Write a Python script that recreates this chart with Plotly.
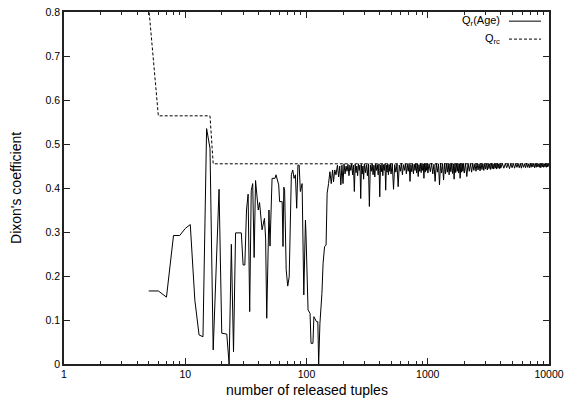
import plotly.graph_objects as go

# ---- data ----
# sparse part of Q_r(Age)
age_x_sparse = [5, 6, 7, 8, 9, 10, 11, 12, 13, 14, 15, 16, 17, 19, 20, 22, 23, 24, 25, 26,
                29, 30, 31, 32, 33, 34, 35, 36, 37, 38, 40, 41, 43, 45, 46, 47, 49, 50, 52, 55,
                56, 59, 60, 63, 64, 65, 66, 68, 70, 72, 75, 77, 79, 81, 83, 85, 87, 89, 92, 93,
                95, 98, 99, 103, 107, 109, 113, 115, 121, 124, 126, 129, 134, 137, 141, 145,
                148, 152, 156, 160, 164, 167, 171, 175]
age_q_sparse = [0.166, 0.166, 0.152, 0.292, 0.292, 0.308, 0.317, 0.145, 0.066, 0.062, 0.535,
                0.49, 0.032, 0.397, 0.07, 0.068, 0.0, 0.272, 0.028, 0.298,
                0.298, 0.225, 0.225, 0.35, 0.386, 0.119, 0.394, 0.41, 0.242, 0.417, 0.35, 0.367,
                0.305, 0.331, 0.286, 0.104, 0.35, 0.268, 0.422, 0.422,
                0.43, 0.407, 0.369, 0.369, 0.267, 0.402, 0.395, 0.214, 0.177, 0.198, 0.43, 0.441,
                0.422, 0.43, 0.354, 0.452, 0.452, 0.392, 0.41, 0.35,
                0.157, 0.327, 0.297, 0.123, 0.115, 0.047, 0.047, 0.1075, 0.096, 0.096, 0.0,
                0.092, 0.16, 0.229, 0.267, 0.27,
                0.388, 0.41, 0.437, 0.41, 0.441, 0.414, 0.441, 0.43]

# dense part of Q_r(Age): alternating upper edge / dips of the band, by decade slice
age_x_a = [180, 184, 188, 192, 196, 200, 204, 208, 212, 216, 220, 224, 228, 232, 236, 240,
           244, 248, 252, 256, 260, 264, 268, 272, 276, 280, 284, 288, 292, 296, 300]
age_q_a = [0.452, 0.425, 0.45, 0.407, 0.452, 0.41, 0.455, 0.432, 0.45, 0.438, 0.454, 0.428,
           0.452, 0.44, 0.455, 0.43, 0.452, 0.392, 0.454, 0.435, 0.45, 0.428, 0.455, 0.44,
           0.452, 0.376, 0.454, 0.432, 0.45, 0.42, 0.455]

age_x_b = [306, 312, 318, 324, 330, 336, 342, 348, 354, 360, 366, 372, 378, 384, 390, 396,
           402, 408, 414, 420, 426, 432, 438, 444, 450, 456, 462, 468, 474, 480, 486, 492, 498]
age_q_b = [0.435, 0.453, 0.428, 0.455, 0.358, 0.452, 0.438, 0.455, 0.43, 0.452, 0.425, 0.455,
           0.44, 0.453, 0.43, 0.455, 0.38, 0.452, 0.437, 0.455, 0.428, 0.453, 0.44, 0.455,
           0.395, 0.452, 0.436, 0.455, 0.43, 0.453, 0.438, 0.455, 0.432]

age_x_c = [510, 522, 534, 546, 558, 570, 582, 594, 606, 618, 630, 642, 654, 666, 678, 690,
           702, 714, 726, 738, 750, 762, 774, 786, 798, 810, 822, 834, 846, 858, 870, 882,
           894, 906, 918, 930, 942, 954, 966, 978, 990, 1002]
age_q_c = [0.455, 0.397, 0.453, 0.436, 0.455, 0.403, 0.452, 0.438, 0.456, 0.43, 0.453, 0.44,
           0.455, 0.432, 0.454, 0.438, 0.456, 0.415, 0.453, 0.437, 0.455, 0.432, 0.454, 0.44,
           0.456, 0.434, 0.455, 0.426, 0.453, 0.438, 0.456, 0.435, 0.454, 0.44, 0.455, 0.422,
           0.456, 0.436, 0.454, 0.44, 0.456, 0.434]

age_x_d = [1025, 1050, 1075, 1100, 1125, 1150, 1175, 1200, 1225, 1250, 1275, 1300, 1325,
           1350, 1375, 1400, 1425, 1450, 1475, 1500, 1525, 1550, 1575, 1600, 1625, 1650,
           1675, 1700, 1725, 1750, 1775, 1800, 1825, 1850, 1875, 1900, 1925, 1950, 1975, 2000]
age_q_d = [0.455, 0.437, 0.456, 0.432, 0.454, 0.415, 0.456, 0.436, 0.455, 0.407, 0.456, 0.434,
           0.455, 0.418, 0.456, 0.432, 0.455, 0.436, 0.456, 0.43, 0.455, 0.437, 0.456, 0.433,
           0.455, 0.42, 0.456, 0.435, 0.455, 0.438, 0.456, 0.434, 0.455, 0.422, 0.456, 0.436,
           0.455, 0.438, 0.456, 0.434]

age_x_e = [2050, 2100, 2150, 2200, 2250, 2300, 2350, 2400, 2450, 2500, 2550, 2600, 2650,
           2700, 2750, 2800, 2850, 2900, 2950, 3000, 3050, 3100, 3150, 3200, 3250, 3300,
           3350, 3400, 3450, 3500, 3550, 3600, 3650, 3700, 3750, 3800, 3850, 3900, 3950, 4000]
age_q_e = [0.455, 0.426, 0.456, 0.438, 0.455, 0.436, 0.456, 0.44, 0.455, 0.438, 0.456, 0.441,
           0.455, 0.439, 0.456, 0.442, 0.455, 0.44, 0.456, 0.443, 0.455, 0.441, 0.456, 0.444,
           0.455, 0.442, 0.456, 0.444, 0.455, 0.443, 0.456, 0.445, 0.455, 0.443, 0.456, 0.445,
           0.455, 0.444, 0.456, 0.445]

age_x_f = [4120, 4240, 4360, 4480, 4600, 4720, 4840, 4960, 5080, 5200, 5320, 5440, 5560,
           5680, 5800, 5920, 6040, 6160, 6280, 6400, 6520, 6640, 6760, 6880, 7000, 7120,
           7240, 7360, 7480, 7600, 7720, 7840, 7960, 8080, 8200, 8320, 8440, 8560, 8680,
           8800, 8920, 9040, 9160, 9280, 9400, 9520, 9640, 9760, 9880, 10000]
age_q_f = [0.456, 0.445, 0.455, 0.446, 0.456, 0.444, 0.455, 0.446, 0.456, 0.445,
           0.455, 0.447, 0.456, 0.446, 0.455, 0.445, 0.456, 0.447, 0.455, 0.446,
           0.456, 0.447, 0.455, 0.446, 0.456, 0.447, 0.455, 0.448, 0.456, 0.446,
           0.455, 0.447, 0.456, 0.448, 0.455, 0.447, 0.456, 0.446, 0.455, 0.448,
           0.456, 0.447, 0.455, 0.448, 0.456, 0.447, 0.455, 0.448, 0.456, 0.449]

# critical value Q_rc
rc_x = [5, 6, 16, 17, 10000]
rc_q = [0.81, 0.564, 0.564, 0.455, 0.455]

x_tick_vals = [1, 10, 100, 1000, 10000]
x_tick_text = ["1", "10", "100", "1000", "10000"]
y_tick_vals = [0, 0.1, 0.2, 0.3, 0.4, 0.5, 0.6, 0.7, 0.8]
y_tick_text = ["0", "0.1", "0.2", "0.3", "0.4", "0.5", "0.6", "0.7", "0.8"]

age_x = age_x_sparse + age_x_a + age_x_b + age_x_c + age_x_d + age_x_e + age_x_f
age_q = age_q_sparse + age_q_a + age_q_b + age_q_c + age_q_d + age_q_e + age_q_f
assert len(age_x) == len(age_q)

FONT = "Liberation Sans, Arial, sans-serif"

fig = go.Figure()
fig.add_trace(go.Scatter(x=age_x, y=age_q, mode="lines",
                         line=dict(color="black", width=1),
                         name="Q_r(Age)", showlegend=False))
fig.add_trace(go.Scatter(x=rc_x, y=rc_q, mode="lines",
                         line=dict(color="black", width=1, dash="3px,2px"),
                         name="Q_rc", showlegend=False))

axis_common = dict(showline=True, linecolor="#222", linewidth=1.5, mirror="allticks",
                   ticks="inside", ticklen=6, tickcolor="#222", tickwidth=1,
                   showgrid=False, zeroline=False, automargin=False,
                   tickfont=dict(family=FONT, size=10.5, color="black"))

fig.update_xaxes(type="log", range=[0, 4], tickvals=x_tick_vals, ticktext=x_tick_text,
                 minor=dict(ticks="inside", ticklen=3, tickcolor="#222", dtick="D1",
                            showgrid=False),
                 **axis_common)
fig.update_yaxes(range=[0, 0.8], tickvals=y_tick_vals, ticktext=y_tick_text, **axis_common)

# axis titles
fig.add_annotation(text="number of released tuples", xref="paper", yref="paper",
                   x=0.5, y=-0.074, xanchor="center", yanchor="middle", showarrow=False,
                   font=dict(family=FONT, size=14, color="black"))
fig.add_annotation(text="Dixon's coefficient", xref="paper", yref="paper",
                   x=-0.099, y=0.5, xanchor="center", yanchor="middle", textangle=-90,
                   showarrow=False, font=dict(family=FONT, size=14, color="black"))

# legend (gnuplot style: text then sample)
fig.add_annotation(text="Q<sub>r</sub>(Age)", xref="paper", yref="paper", x=0.903, y=0.974,
                   xanchor="right", yanchor="middle", showarrow=False,
                   font=dict(family=FONT, size=11, color="black"))
fig.add_annotation(text="Q<sub>rc</sub>", xref="paper", yref="paper", x=0.903, y=0.923,
                   xanchor="right", yanchor="middle", showarrow=False,
                   font=dict(family=FONT, size=11, color="black"))
fig.add_shape(type="line", xref="paper", yref="paper", x0=0.9175, x1=0.9835, y0=0.974,
              y1=0.974, line=dict(color="black", width=1))
fig.add_shape(type="line", xref="paper", yref="paper", x0=0.9175, x1=0.9835, y0=0.923,
              y1=0.923, line=dict(color="black", width=1, dash="3px,2px"))

fig.update_layout(width=570, height=404, margin=dict(l=64, r=21, t=12, b=40),
                  paper_bgcolor="white", plot_bgcolor="white", showlegend=False)

fig.write_html("out.html")
